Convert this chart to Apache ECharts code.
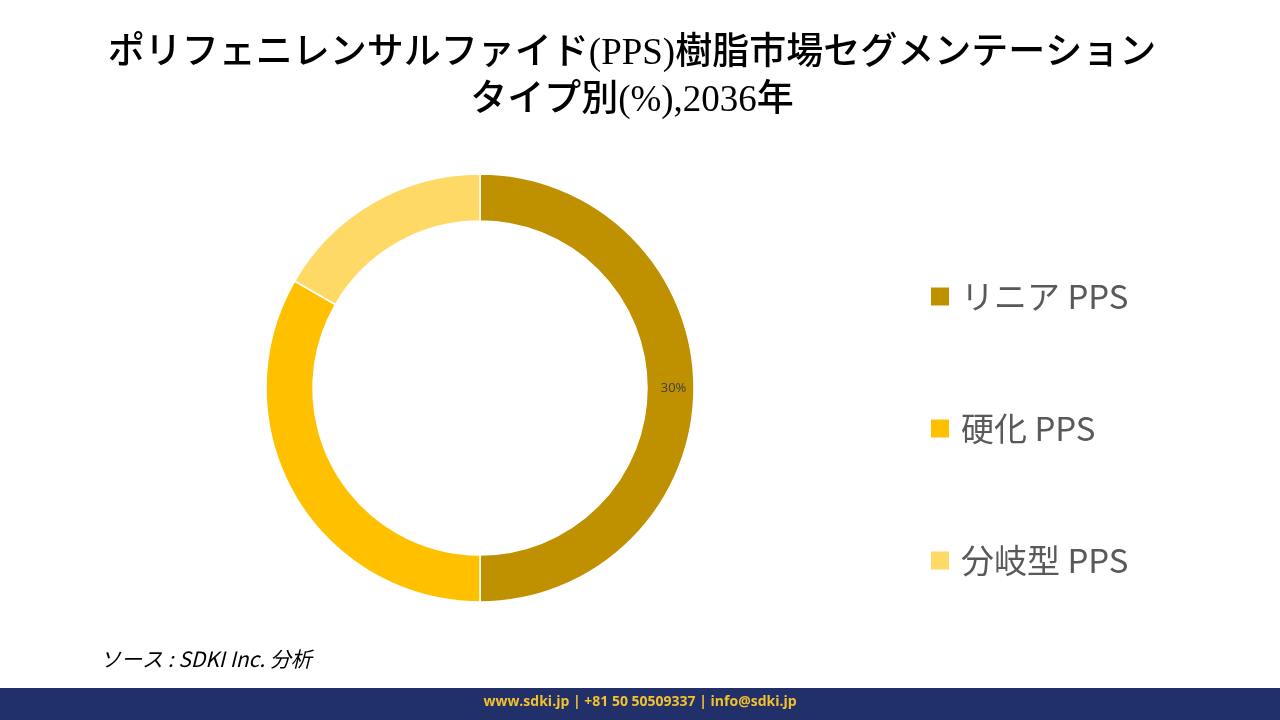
<!DOCTYPE html>
<html><head><meta charset="utf-8">
<script src="https://cdn.jsdelivr.net/npm/echarts@6/dist/echarts.min.js"></script>
<style>html,body{margin:0;padding:0;background:#fff}#c{width:1280px;height:720px}</style>
</head><body><div id="c"></div>
<script>
const categories = ['リニア PPS', '硬化 PPS', '分岐型 PPS'];
const values = [30, 20, 10];
const colors = ['#BF9000', '#FFC000', '#FFD966'];
const titleLines = ['ポリフェニレンサルファイド(PPS)樹脂市場セグメンテーション', 'タイプ別(%),2036年'];
const sourceText = 'ソース : SDKI Inc. 分析';
const footerText = 'www.sdki.jp | +81 50 50509337 | info@sdki.jp';

const chart = echarts.init(document.getElementById('c'));
chart.setOption({
  backgroundColor: '#fff',
  animation: false,
  title: {
    text: titleLines.join('\n'),
    left: 627, top: 26, textAlign: 'center',
    textStyle: { fontFamily: '"Liberation Serif","Noto Sans CJK JP",serif', fontSize: 37, fontWeight: 500, color: '#000', lineHeight: 47 }
  },
  legend: {
    orient: 'vertical', left: 929, top: 280, padding: 0,
    itemWidth: 20, itemHeight: 20, itemGap: 99, icon: 'rect',
    textStyle: { fontFamily: '"Noto Sans CJK JP","Open Sans",sans-serif', fontSize: 33, color: '#595959', padding: [0,0,0,6] },
    data: categories
  },
  series: [{
    type: 'pie',
    center: [480, 388],
    radius: [167, 214],
    startAngle: 90,
    clockwise: true,
    itemStyle: { borderColor: '#fff', borderWidth: 1.5 },
    label: { show: false },
    labelLine: { show: false },
    data: categories.map((c, i) => ({
      name: c, value: values[i], itemStyle: { color: colors[i] },
      label: i === 0 ? { show: true, position: 'inside', formatter: '{c}%', color: '#404040', fontSize: 13, fontFamily: '"Open Sans",sans-serif' } : { show: false }
    }))
  }],
  graphic: [
    { type: 'text', left: 100, top: 649, style: { text: sourceText, font: 'italic 21px "Noto Sans CJK JP","Open Sans",sans-serif', fill: '#000' } },
    { type: 'rect', shape: { x: 0, y: 688, width: 1280, height: 32 }, style: { fill: '#22306A' } },
    { type: 'text', left: 'center', top: 695, style: { text: footerText, font: 'bold 14px "Open Sans",sans-serif', fill: '#F2C12E' } }
  ]
});
</script></body></html>
